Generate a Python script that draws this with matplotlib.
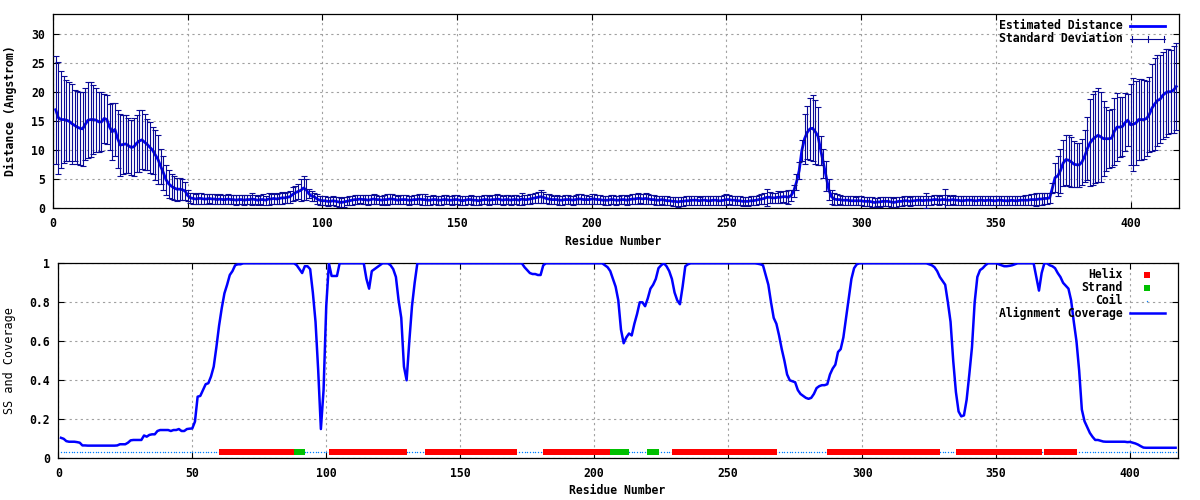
import numpy as np
import matplotlib
matplotlib.use("Agg")
import matplotlib.pyplot as plt
from matplotlib.ticker import MultipleLocator, FuncFormatter

# estimated distance per residue (1..417)
distance = [
    17.0, 15.6, 15.3, 15.3, 15.2, 15.0, 14.6, 14.3, 14.0, 13.8,
    13.7, 14.5, 15.2, 15.3, 15.3, 15.2, 14.9, 14.9, 15.5, 15.3,
    14.0, 13.2, 13.6, 12.0, 10.9, 11.0, 11.1, 10.8, 10.5, 10.6,
    11.2, 11.6, 11.8, 11.4, 11.0, 10.5, 10.0, 9.2, 8.4, 7.2,
    6.1, 4.9, 4.2, 3.8, 3.5, 3.3, 3.3, 3.2, 3.0, 2.2,
    1.8, 1.7, 1.6, 1.7, 1.7, 1.6, 1.6, 1.7, 1.6, 1.6,
    1.5, 1.6, 1.5, 1.5, 1.6, 1.5, 1.5, 1.4, 1.5, 1.5,
    1.4, 1.5, 1.5, 1.6, 1.5, 1.4, 1.5, 1.5, 1.4, 1.6,
    1.6, 1.7, 1.6, 1.7, 1.8, 1.8, 1.9, 2.0, 2.4, 2.7,
    2.9, 3.1, 3.5, 3.2, 2.5, 2.1, 2.0, 1.6, 1.4, 1.3,
    1.3, 1.2, 1.2, 1.3, 1.2, 1.1, 1.0, 1.1, 1.2, 1.3,
    1.4, 1.5, 1.5, 1.6, 1.5, 1.5, 1.4, 1.5, 1.6, 1.5,
    1.5, 1.4, 1.5, 1.5, 1.6, 1.6, 1.5, 1.4, 1.5, 1.5,
    1.5, 1.4, 1.4, 1.5, 1.5, 1.6, 1.5, 1.5, 1.4, 1.4,
    1.5, 1.5, 1.4, 1.4, 1.5, 1.5, 1.4, 1.4, 1.5, 1.5,
    1.4, 1.3, 1.4, 1.5, 1.5, 1.4, 1.4, 1.3, 1.4, 1.5,
    1.5, 1.4, 1.5, 1.5, 1.6, 1.5, 1.4, 1.5, 1.5, 1.4,
    1.5, 1.5, 1.4, 1.6, 1.5, 1.5, 1.6, 1.7, 1.8, 1.9,
    2.0, 1.9, 1.7, 1.6, 1.5, 1.5, 1.5, 1.4, 1.4, 1.5,
    1.5, 1.5, 1.4, 1.5, 1.6, 1.6, 1.5, 1.5, 1.5, 1.6,
    1.6, 1.5, 1.5, 1.4, 1.4, 1.4, 1.5, 1.5, 1.4, 1.4,
    1.5, 1.5, 1.4, 1.5, 1.6, 1.6, 1.7, 1.7, 1.6, 1.7,
    1.6, 1.5, 1.5, 1.4, 1.4, 1.5, 1.4, 1.3, 1.3, 1.2,
    1.2, 1.1, 1.2, 1.2, 1.3, 1.3, 1.4, 1.4, 1.4, 1.3,
    1.4, 1.4, 1.3, 1.3, 1.4, 1.4, 1.3, 1.3, 1.4, 1.5,
    1.5, 1.4, 1.4, 1.3, 1.3, 1.2, 1.2, 1.2, 1.3, 1.3,
    1.4, 1.5, 1.6, 1.7, 1.9, 1.9, 1.8, 1.8, 1.9, 1.9,
    2.0, 2.0, 1.9, 2.2, 3.0, 4.5, 6.5, 10.0, 12.0, 13.1,
    13.7, 13.8, 13.2, 12.4, 10.0, 7.8, 5.5, 3.2, 2.0, 1.6,
    1.5, 1.5, 1.4, 1.4, 1.4, 1.3, 1.3, 1.3, 1.3, 1.3,
    1.2, 1.2, 1.2, 1.1, 1.0, 1.1, 1.1, 1.2, 1.2, 1.2,
    1.1, 1.0, 1.1, 1.2, 1.2, 1.3, 1.3, 1.2, 1.3, 1.3,
    1.4, 1.4, 1.3, 1.4, 1.4, 1.4, 1.5, 1.5, 1.4, 1.5,
    1.5, 1.4, 1.4, 1.5, 1.4, 1.4, 1.3, 1.3, 1.4, 1.4,
    1.4, 1.3, 1.3, 1.4, 1.4, 1.3, 1.4, 1.4, 1.3, 1.3,
    1.4, 1.4, 1.3, 1.3, 1.3, 1.4, 1.3, 1.3, 1.4, 1.4,
    1.4, 1.4, 1.5, 1.5, 1.5, 1.6, 1.6, 1.7, 1.7, 1.8,
    3.5, 5.3, 5.6, 6.5, 7.8, 8.4, 8.3, 8.0, 7.6, 7.5,
    7.5, 8.0, 9.0, 10.3, 11.3, 11.9, 12.3, 12.6, 12.3, 12.0,
    12.0, 12.0, 12.1, 13.3, 14.0, 14.0, 14.1, 14.8, 15.2, 14.4,
    14.5, 14.7, 15.3, 15.3, 15.3, 15.5, 16.2, 17.3, 18.0, 18.6,
    18.8, 19.5, 19.9, 20.1, 20.1, 20.4, 21.0,
]

# standard deviation per residue
std_dev = [
    9.3, 9.7, 8.4, 7.5, 7.0, 6.8, 6.9, 6.1, 6.3, 6.3,
    6.4, 6.2, 6.6, 6.4, 6.0, 5.5, 5.2, 5.1, 4.2, 4.2,
    4.0, 4.9, 4.5, 5.0, 5.3, 5.1, 5.0, 4.7, 4.8, 5.0,
    4.9, 5.3, 5.1, 4.8, 4.4, 4.4, 4.1, 4.3, 4.2, 3.0,
    2.9, 2.6, 2.4, 2.2, 2.0, 2.0, 1.9, 1.8, 1.5, 1.0,
    0.9, 0.9, 0.9, 1.0, 0.9, 0.9, 0.9, 0.8, 0.9, 0.9,
    0.8, 0.9, 0.8, 0.8, 0.9, 0.8, 0.8, 0.9, 0.8, 0.8,
    0.9, 0.8, 0.8, 1.0, 0.8, 0.8, 0.8, 0.9, 0.8, 1.0,
    0.8, 0.9, 0.8, 0.9, 1.0, 0.9, 0.9, 1.0, 1.2, 1.2,
    1.3, 1.9, 2.0, 1.8, 0.8, 0.8, 0.7, 0.8, 0.8, 0.8,
    0.8, 0.8, 0.7, 0.8, 0.8, 0.8, 0.8, 0.8, 0.7, 0.8,
    0.8, 0.8, 0.8, 0.7, 0.8, 0.8, 0.9, 0.8, 0.8, 0.8,
    0.7, 0.8, 0.8, 0.9, 0.8, 0.8, 0.8, 0.7, 0.8, 0.8,
    0.8, 0.8, 0.7, 0.8, 0.8, 0.8, 0.9, 1.0, 0.8, 0.8,
    0.8, 0.7, 0.8, 0.8, 0.8, 0.8, 0.7, 0.8, 0.8, 0.8,
    0.8, 0.8, 0.8, 0.7, 0.8, 0.8, 0.8, 0.8, 0.7, 0.8,
    0.8, 0.8, 0.8, 0.8, 0.9, 0.8, 0.8, 0.8, 0.8, 0.8,
    0.8, 0.8, 0.8, 1.0, 0.8, 0.8, 0.8, 0.8, 0.9, 0.9,
    1.1, 0.9, 0.8, 0.8, 0.8, 0.7, 0.8, 0.8, 0.8, 0.8,
    0.8, 0.7, 0.8, 0.8, 0.8, 0.8, 0.8, 0.8, 0.7, 0.9,
    0.8, 0.8, 0.8, 0.7, 0.8, 0.8, 0.8, 0.8, 0.8, 0.7,
    0.8, 0.8, 0.8, 0.8, 0.8, 0.9, 0.9, 0.8, 0.9, 0.9,
    0.8, 0.8, 0.8, 0.8, 0.8, 0.7, 0.8, 0.8, 0.7, 0.8,
    0.8, 0.8, 0.8, 0.8, 0.8, 0.8, 0.8, 0.8, 0.8, 0.7,
    0.8, 0.8, 0.8, 0.8, 0.8, 0.8, 0.8, 0.8, 0.9, 1.0,
    0.8, 0.8, 0.8, 0.8, 0.8, 0.8, 0.7, 0.8, 0.8, 0.8,
    0.8, 0.8, 0.9, 0.9, 1.5, 0.9, 0.9, 0.9, 1.0, 0.9,
    0.9, 1.0, 1.2, 0.9, 1.0, 1.4, 1.5, 1.8, 4.3, 4.6,
    5.3, 5.7, 5.5, 5.0, 2.5, 2.5, 2.6, 1.8, 1.2, 1.0,
    0.9, 0.8, 0.8, 0.8, 0.8, 0.8, 0.8, 0.7, 0.8, 0.8,
    0.8, 0.8, 0.8, 0.8, 0.8, 0.7, 0.8, 0.8, 0.8, 0.8,
    0.8, 0.8, 0.8, 0.8, 0.8, 0.8, 0.8, 0.8, 0.8, 0.8,
    0.8, 0.8, 0.8, 1.3, 0.8, 0.8, 0.8, 0.8, 0.8, 0.8,
    1.8, 0.9, 0.8, 0.8, 0.8, 0.8, 0.8, 0.8, 0.8, 0.8,
    0.8, 0.8, 0.8, 0.8, 0.8, 0.8, 0.8, 0.8, 0.8, 0.8,
    0.8, 0.8, 0.8, 0.8, 0.8, 0.8, 0.8, 0.8, 0.8, 0.8,
    0.9, 0.9, 1.0, 1.0, 1.1, 1.1, 1.0, 1.0, 1.0, 0.8,
    0.8, 2.5, 3.5, 3.8, 4.0, 4.3, 4.4, 4.3, 4.0, 3.8,
    3.8, 4.0, 4.5, 5.5, 7.5, 7.8, 8.0, 8.1, 7.8, 6.5,
    5.5, 5.0, 5.0, 5.8, 5.8, 5.2, 5.1, 5.0, 4.5, 7.0,
    8.0, 7.2, 7.0, 7.0, 6.8, 6.5, 6.5, 7.5, 8.0, 7.8,
    7.6, 7.5, 7.6, 7.3, 7.2, 7.5, 7.5,
]

# alignment coverage per residue
coverage = [
    0.105, 0.100, 0.088, 0.085, 0.085, 0.085, 0.083, 0.080, 0.066, 0.066,
    0.065, 0.065, 0.065, 0.065, 0.065, 0.065, 0.065, 0.065, 0.065, 0.065,
    0.065, 0.066, 0.072, 0.072, 0.072, 0.080, 0.092, 0.094, 0.094, 0.094,
    0.094, 0.117, 0.111, 0.120, 0.123, 0.123, 0.140, 0.145, 0.145, 0.145,
    0.145, 0.140, 0.145, 0.145, 0.150, 0.140, 0.140, 0.150, 0.152, 0.153,
    0.188, 0.316, 0.320, 0.350, 0.380, 0.385, 0.420, 0.470, 0.570, 0.680,
    0.770, 0.846, 0.890, 0.940, 0.960, 0.990, 0.995, 0.995, 1.000, 1.000,
    1.000, 1.000, 1.000, 1.000, 1.000, 1.000, 1.000, 1.000, 1.000, 1.000,
    1.000, 1.000, 1.000, 1.000, 1.000, 1.000, 1.000, 1.000, 0.990, 0.970,
    0.950, 0.985, 0.985, 0.970, 0.850, 0.700, 0.450, 0.150, 0.350, 0.780,
    1.000, 0.935, 0.935, 0.935, 1.000, 1.000, 1.000, 1.000, 1.000, 1.000,
    1.000, 1.000, 1.000, 1.000, 0.920, 0.870, 0.960, 0.970, 0.980, 0.990,
    1.000, 1.000, 1.000, 0.990, 0.970, 0.930, 0.810, 0.720, 0.470, 0.400,
    0.600, 0.780, 0.900, 1.000, 1.000, 1.000, 1.000, 1.000, 1.000, 1.000,
    1.000, 1.000, 1.000, 1.000, 1.000, 1.000, 1.000, 1.000, 1.000, 1.000,
    1.000, 1.000, 1.000, 1.000, 1.000, 1.000, 1.000, 1.000, 1.000, 1.000,
    1.000, 1.000, 1.000, 1.000, 1.000, 1.000, 1.000, 1.000, 1.000, 1.000,
    1.000, 1.000, 1.000, 0.980, 0.965, 0.950, 0.945, 0.945, 0.940, 0.940,
    0.990, 1.000, 1.000, 1.000, 1.000, 1.000, 1.000, 1.000, 1.000, 1.000,
    1.000, 1.000, 1.000, 1.000, 1.000, 1.000, 1.000, 1.000, 1.000, 1.000,
    1.000, 1.000, 1.000, 0.990, 0.980, 0.960, 0.920, 0.880, 0.810, 0.660,
    0.590, 0.620, 0.640, 0.630, 0.690, 0.740, 0.800, 0.800, 0.780, 0.820,
    0.870, 0.890, 0.920, 0.975, 0.990, 1.000, 0.985, 0.960, 0.920, 0.850,
    0.810, 0.790, 0.880, 0.985, 0.995, 1.000, 1.000, 1.000, 1.000, 1.000,
    1.000, 1.000, 1.000, 1.000, 1.000, 1.000, 1.000, 1.000, 1.000, 1.000,
    1.000, 1.000, 1.000, 1.000, 1.000, 1.000, 1.000, 1.000, 1.000, 1.000,
    0.998, 0.995, 0.990, 0.940, 0.890, 0.800, 0.720, 0.690, 0.630, 0.560,
    0.500, 0.430, 0.400, 0.395, 0.390, 0.350, 0.330, 0.320, 0.310, 0.305,
    0.310, 0.330, 0.360, 0.370, 0.375, 0.375, 0.380, 0.430, 0.460, 0.480,
    0.545, 0.560, 0.620, 0.720, 0.820, 0.920, 0.975, 0.995, 1.000, 1.000,
    1.000, 1.000, 1.000, 1.000, 1.000, 1.000, 1.000, 1.000, 1.000, 1.000,
    1.000, 1.000, 1.000, 1.000, 1.000, 1.000, 1.000, 1.000, 1.000, 1.000,
    1.000, 1.000, 1.000, 1.000, 0.995, 0.990, 0.980, 0.960, 0.930, 0.910,
    0.890, 0.800, 0.700, 0.500, 0.340, 0.240, 0.215, 0.220, 0.300, 0.430,
    0.570, 0.800, 0.930, 0.965, 0.975, 0.990, 1.000, 1.000, 1.000, 1.000,
    0.995, 0.990, 0.985, 0.985, 0.987, 0.990, 0.995, 1.000, 1.000, 1.000,
    1.000, 1.000, 1.000, 1.000, 0.930, 0.860, 0.950, 1.000, 1.000, 0.990,
    0.985, 0.975, 0.950, 0.930, 0.900, 0.885, 0.870, 0.810, 0.700, 0.600,
    0.450, 0.250, 0.190, 0.160, 0.130, 0.110, 0.094, 0.094, 0.090, 0.086,
    0.085, 0.085, 0.085, 0.085, 0.085, 0.085, 0.085, 0.085, 0.083, 0.084,
    0.080, 0.076, 0.070, 0.062, 0.055, 0.054, 0.054, 0.054, 0.054, 0.054,
    0.054, 0.054, 0.054, 0.054, 0.054, 0.054, 0.054,
]

# secondary structure segments (first, last residue)
helix_segments = [(61, 88), (102, 129), (138, 170), (182, 206), (230, 267),
                  (288, 328), (336, 366), (369, 379)]
strand_segments = [(89, 91), (207, 212), (221, 223)]
ss_level = 0.03

n_res = len(distance)
residues = np.arange(1, n_res + 1)

ss = np.array(['C'] * n_res)
for a, b in helix_segments:
    ss[a - 1:b] = 'H'
for a, b in strand_segments:
    ss[a - 1:b] = 'E'

FONT = dict(family='DejaVu Sans Mono', weight='bold', size=8.3)
plt.rcParams['font.family'] = 'DejaVu Sans Mono'
plt.rcParams['font.weight'] = 'bold'
plt.rcParams['font.size'] = 8.3

HELIX = dict(marker='s', ms=4.3, mew=0, color='#ff0000', linestyle='none')
STRAND = dict(marker='s', ms=5.0, mew=0, color='#00c000', linestyle='none')
COIL = dict(marker='o', ms=1.0, mew=0, color='#0080ff', linestyle='none')

W, H = 1200, 500
fig = plt.figure(figsize=(W / 100, H / 100), dpi=100)


def fpos(x, y):
    return x / W, 1 - y / H


def style_axes(ax):
    ax.tick_params(direction='in', length=4, width=0.8, top=True, right=True,
                   pad=6, labelsize=8.3)
    ax.grid(True, color='#a0a0a0', linestyle=(0, (2, 3)), linewidth=0.8)
    ax.set_axisbelow(True)
    for sp in ax.spines.values():
        sp.set_linewidth(0.9)
    for lab in ax.get_xticklabels() + ax.get_yticklabels():
        lab.set_fontweight('bold')


# ---- top: estimated distance ----
ax1 = fig.add_axes([53 / W, 1 - 208.3 / H, 1126 / W, 194.3 / H])
ax1.plot(residues, distance, color='#0000ff', lw=2.0, zorder=3)
ax1.errorbar(residues, distance, yerr=std_dev, fmt='none', ecolor='#0a0a96',
             elinewidth=0.8, capsize=2.3, capthick=0.8, zorder=4)
ax1.set_xlim(0, 418)
ax1.set_ylim(0, 33.5)
ax1.xaxis.set_major_locator(MultipleLocator(50))
ax1.yaxis.set_major_locator(MultipleLocator(5))
style_axes(ax1)
ax1.set_xlabel('Residue Number', fontweight='bold', fontsize=8.3)
ax1.set_ylabel('Distance (Angstrom)', fontweight='bold', fontsize=8.3)
ax1.xaxis.set_label_coords((613 - 53) / 1126, -(241 - 208.3) / 194.3)
ax1.xaxis.label.set_va('center')
ax1.yaxis.set_label_coords((10 - 53) / 1126, (208.3 - 111) / 194.3)
ax1.yaxis.label.set_va('center')

# ---- bottom: SS and coverage ----
ax2 = fig.add_axes([58.3 / W, 1 - 458.3 / H, 1120 / W, 195 / H])
helix_x = residues[ss == 'H']
strand_x = residues[ss == 'E']
coil_x = residues[ss == 'C']
ax2.plot(coil_x, np.full(len(coil_x), ss_level), zorder=3, **COIL)
ax2.plot(helix_x, np.full(len(helix_x), ss_level), zorder=3, **HELIX)
ax2.plot(strand_x, np.full(len(strand_x), ss_level), zorder=3, **STRAND)
ax2.plot(residues, coverage, color='#0000ff', lw=1.8, zorder=4)
ax2.set_xlim(0, 418)
ax2.set_ylim(0, 1)
ax2.xaxis.set_major_locator(MultipleLocator(50))
ax2.yaxis.set_major_locator(MultipleLocator(0.2))
ax2.yaxis.set_major_formatter(FuncFormatter(lambda v, p: '%g' % round(v, 2)))
style_axes(ax2)
ax2.set_xlabel('Residue Number', fontweight='bold', fontsize=8.3)
ax2.set_ylabel('SS and Coverage', fontweight='normal', fontsize=8.5)
ax2.xaxis.set_label_coords((617 - 58.3) / 1120, -(490.7 - 458.3) / 195)
ax2.xaxis.label.set_va('center')
ax2.yaxis.set_label_coords((10 - 58.3) / 1120, 0.5)
ax2.yaxis.label.set_va('center')

# ---- gnuplot-style keys ----
tf = fig.transFigure


def key_text(label, y):
    fig.text(*fpos(1122.7, y), label, ha='right', va='center', **FONT)


def key_line(y, **kw):
    (x0, yy), (x1, _) = fpos(1130, y), fpos(1165, y)
    fig.add_artist(plt.Line2D([x0, x1], [yy, yy], transform=tf, **kw))


def key_marker(y, style):
    fig.add_artist(plt.Line2D(*zip(fpos(1147.3, y)), transform=tf, **style))


key_text('Estimated Distance', 25.7)
key_line(25.7, color='#0000ff', lw=2.0)
key_text('Standard Deviation', 38.7)
key_line(38.7, color='#0a0a96', lw=0.8)
for xt in (1131.5, 1147.7, 1164.3):
    (xx, y0), (_, y1) = fpos(xt, 35.5), fpos(xt, 42)
    fig.add_artist(plt.Line2D([xx, xx], [y0, y1], transform=tf,
                              color='#0a0a96', lw=0.8))

key_text('Helix', 275)
key_marker(275, dict(HELIX, ms=4.0))
key_text('Strand', 287.7)
key_marker(287.7, STRAND)
key_text('Coil', 300.7)
key_marker(300.7, COIL)
key_text('Alignment Coverage', 313.3)
key_line(313.3, color='#0000ff', lw=1.8)

fig.savefig('out.png', dpi=100)
